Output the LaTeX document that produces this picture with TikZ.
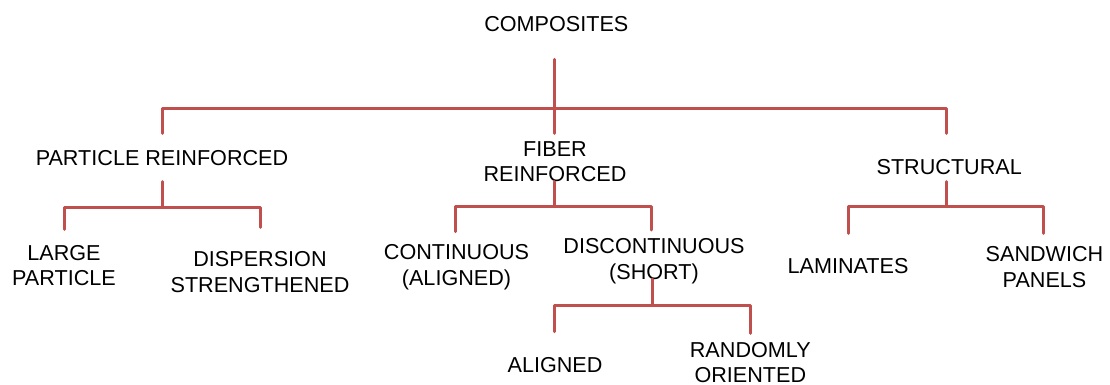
\documentclass[tikz,border=0pt]{standalone}
\usepackage{fontspec}
\setmainfont{Liberation Sans}
\usetikzlibrary{calc}
\definecolor{linered}{RGB}{192,80,77}
\tikzset{
  lbl/.style={anchor=north, inner sep=0pt, align=center, text=black,
    font=\fontsize{21.6}{25.7}\selectfont},
  conn/.style={draw=linered, line width=3pt, line cap=round, line join=round}
}
\begin{document}
\begin{tikzpicture}[x=1pt,y=-1pt]
\fill[white] (0,0) rectangle (1110,385);
\useasboundingbox (0,0) rectangle (1110,385);

% nodes (anchored at the top of the capitals)
\node[lbl] (comp)   at (556.3,16)    {COMPOSITES};
\node[lbl] (partic) at (162,150)     {PARTICLE REINFORCED};
\node[lbl] (fiber)  at (555,141)     {FIBER\\REINFORCED};
\node[lbl] (struct) at (949.2,159.5) {STRUCTURAL};
\node[lbl] (large)  at (64,245)      {LARGE\\PARTICLE};
\node[lbl] (disp)   at (260,251.7)   {DISPERSION\\STRENGTHENED};
\node[lbl] (cont)   at (456.5,244.5) {CONTINUOUS\\(ALIGNED)};
\node[lbl] (disc)   at (654,238.3)   {DISCONTINUOUS\\(SHORT)};
\node[lbl] (lam)    at (848,258.3)   {LAMINATES};
\node[lbl] (sand)   at (1044.5,246.7){SANDWICH\\PANELS};
\node[lbl] (alig)   at (555,357.7)   {ALIGNED};
\node[lbl, font=\fontsize{21.6}{24.5}\selectfont] (rand) at (750.3,342.3) {RANDOMLY\\ORIENTED};

% tree 1: composites
\coordinate (jc) at ([shift={(-2,92.3)}]comp.north);
\draw[conn] ([shift={(-2,43.3)}]comp.north) -- ([shift={(-0.7,-7.7)}]fiber.north);
\coordinate (pA) at ([shift={(0.3,-16.7)}]partic.north);
\coordinate (pB) at ([shift={(-3.2,-26.2)}]struct.north);
\draw[conn] (pA) -- (pA |- jc) -- (pB |- jc) -- (pB);

% tree 2: particle reinforced
\coordinate (pS) at ([shift={(0.3,31.7)}]partic.north);
\coordinate (jp) at ([shift={(0.3,57)}]partic.north);
\draw[conn] (pS) -- (jp);
\coordinate (lA) at ([shift={(0,-15.7)}]large.north);
\coordinate (lB) at ([shift={(0,-24.4)}]disp.north);
\draw[conn] (lA) -- (lA |- jp) -- (lB |- jp) -- (lB);

% tree 3: fiber reinforced
\coordinate (fS) at ([shift={(-0.7,40.7)}]fiber.north);
\coordinate (jf) at ([shift={(-0.7,65.7)}]fiber.north);
\draw[conn] (fS) -- (jf);
\coordinate (fA) at ([shift={(-0.8,-12.8)}]cont.north);
\coordinate (fB) at ([shift={(-2.3,-8.3)}]disc.north);
\draw[conn] (fA) -- (fA |- jf) -- (fB |- jf) -- (fB);

% tree 4: discontinuous
\coordinate (dS) at ([shift={(-2,40.7)}]disc.north);
\coordinate (jd) at ([shift={(-2,67.4)}]disc.north);
\draw[conn] (dS) -- (jd);
\coordinate (dA) at ([shift={(-0.7,-26)}]alig.north);
\coordinate (dB) at ([shift={(-0.3,-9)}]rand.north);
\draw[conn] (dA) -- (dA |- jd) -- (dB |- jd) -- (dB);

% tree 5: structural
\coordinate (sS) at ([shift={(-3.2,22.2)}]struct.north);
\coordinate (js) at ([shift={(-3.2,47.2)}]struct.north);
\draw[conn] (sS) -- (js);
\coordinate (sA) at ([shift={(0.3,-25)}]lam.north);
\coordinate (sB) at ([shift={(-1.2,-13.4)}]sand.north);
\draw[conn] (sA) -- (sA |- js) -- (sB |- js) -- (sB);
\end{tikzpicture}
\end{document}
